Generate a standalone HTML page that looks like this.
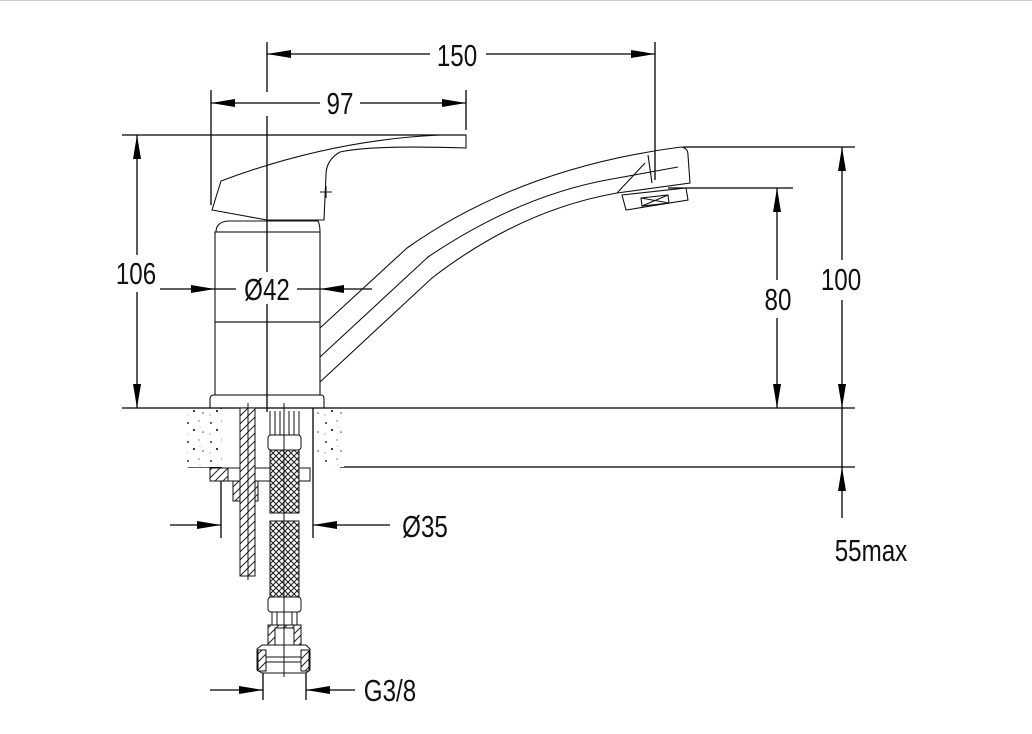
<!DOCTYPE html>
<html><head><meta charset="utf-8"><style>
html,body{margin:0;padding:0;background:#fff}
svg{display:block}
text{font-family:"Liberation Sans",sans-serif;font-size:31px;fill:#111}
</style></head><body>
<svg width="1032" height="734" viewBox="0 0 1032 734" xmlns="http://www.w3.org/2000/svg">
<defs>
<pattern id="braid" width="6" height="6" patternUnits="userSpaceOnUse">
<rect width="6" height="6" fill="#fff"/>
<path d="M0,0L6,6M6,0L0,6" stroke="#222" stroke-width="1.1"/>
</pattern>
<pattern id="hatch" width="8" height="8" patternUnits="userSpaceOnUse">
<rect width="8" height="8" fill="#fff"/>
<path d="M0,8L8,0M-2,2L2,-2M6,10L10,6" stroke="#222" stroke-width="1"/>
</pattern>
<pattern id="speck" width="23" height="19" patternUnits="userSpaceOnUse">
<rect width="23" height="19" fill="#fff"/>
<circle cx="4" cy="5" r="1" fill="#333"/><circle cx="15" cy="3" r="0.7" fill="#666"/>
<circle cx="10" cy="12" r="1.1" fill="#222"/><circle cx="19" cy="14" r="0.8" fill="#444"/>
<circle cx="3" cy="16" r="0.6" fill="#777"/><circle cx="16" cy="9" r="0.5" fill="#888"/>
</pattern>
<marker id="a" viewBox="0 0 24 8" refX="24" refY="4" markerWidth="24" markerHeight="8" markerUnits="userSpaceOnUse" orient="auto">
<path d="M0,0L24,4L0,8z" fill="#000"/></marker>
</defs>
<line x1="0" y1="0.5" x2="1032" y2="0.5" stroke="#ccc"/>
<g stroke="#000" stroke-width="1.3" fill="none">
<!-- extension lines -->
<line x1="267" y1="42" x2="267" y2="92"/>
<line x1="267" y1="116" x2="267" y2="272"/>
<line x1="267" y1="304" x2="267" y2="412"/>
<line x1="655" y1="42" x2="655" y2="180"/>
<line x1="211" y1="90" x2="211" y2="205"/>
<line x1="466" y1="90" x2="466" y2="130"/>
<line x1="122" y1="135" x2="466" y2="135"/>
<line x1="683" y1="147" x2="855" y2="147"/>
<line x1="668" y1="188" x2="793" y2="188"/>
<line x1="122" y1="408" x2="855" y2="408"/>
<line x1="340" y1="467" x2="855" y2="467"/>
<line x1="188" y1="467" x2="222" y2="467"/>
<!-- 150 -->
<line x1="430" y1="54" x2="267" y2="54" marker-end="url(#a)"/>
<line x1="486" y1="54" x2="655" y2="54" marker-end="url(#a)"/>
<!-- 97 -->
<line x1="320" y1="103" x2="211" y2="103" marker-end="url(#a)"/>
<line x1="360" y1="103" x2="466" y2="103" marker-end="url(#a)"/>
<!-- 106 -->
<line x1="137" y1="255" x2="137" y2="135" marker-end="url(#a)"/>
<line x1="137" y1="292" x2="137" y2="408" marker-end="url(#a)"/>
<!-- 100 -->
<line x1="842" y1="260" x2="842" y2="147" marker-end="url(#a)"/>
<line x1="842" y1="300" x2="842" y2="408" marker-end="url(#a)"/>
<!-- 80 -->
<line x1="777" y1="280" x2="777" y2="188" marker-end="url(#a)"/>
<line x1="777" y1="318" x2="777" y2="408" marker-end="url(#a)"/>
<!-- 55 -->
<line x1="842" y1="408" x2="842" y2="467"/>
<line x1="842" y1="518" x2="842" y2="467" marker-end="url(#a)"/>
<!-- Ø42 -->
<line x1="160" y1="289" x2="215" y2="289" marker-end="url(#a)"/>
<line x1="372" y1="289" x2="320" y2="289" marker-end="url(#a)"/>
<line x1="297" y1="289" x2="320" y2="289"/>
<line x1="215" y1="289" x2="236" y2="289"/>
<!-- Ø35 -->
<line x1="221" y1="408" x2="221" y2="538"/>
<line x1="313" y1="408" x2="313" y2="538"/>
<line x1="170" y1="525" x2="221" y2="525" marker-end="url(#a)"/>
<line x1="390" y1="525" x2="313" y2="525" marker-end="url(#a)"/>
<!-- G3/8 -->
<line x1="263" y1="672" x2="263" y2="700"/>
<line x1="306" y1="672" x2="306" y2="700"/>
<line x1="210" y1="690" x2="263" y2="690" marker-end="url(#a)"/>
<line x1="355" y1="690" x2="306" y2="690" marker-end="url(#a)"/>
</g>
<!-- faucet -->
<g stroke="#111" stroke-width="1.1" fill="none">
<path d="M212,210 L221,181 Q330,140 440,135 L466,135 L466,148 Q370,145 340,152 Q326,160 326,175 L324,220 L267,220 Z"/>
<path d="M320,192 h12 M326,186 v12"/>
<path d="M216,232 Q216,222 228,221 L318,221 Q320,225 320,232"/>
<rect x="215" y="232" width="105" height="90"/>
<rect x="215" y="322" width="105" height="73"/>
<path d="M210,408 L210,399 Q210,395 214,395 L321,395 Q324,395 324,399 L324,408"/>
<path d="M320,328 L407,248 Q520,168 681,147 Q688,148 688,155 L690,183 L617,193"/>
<path d="M320,357 L428,257 Q520,195 612,179 L678,167"/>
<path d="M320,382 L432,278 Q520,210 617,193 L645,163"/>
<path d="M648,155 L652,183"/>
<path d="M622,195 L686,188 L688,200 L626,210 Z"/>
<path d="M641,198 L668,195 L669,203 L642,206 Z M641,198 L669,203 M668,195 L642,206"/>
</g>
<!-- underside -->
<g stroke="#111" stroke-width="1">
<rect x="187" y="409" width="35" height="58" fill="url(#speck)" stroke="none"/>
<rect x="316" y="409" width="28" height="58" fill="url(#speck)" stroke="none"/>
<rect x="210" y="468" width="100" height="13" fill="#fff"/>
<rect x="210" y="468" width="18" height="13" fill="url(#hatch)"/>
<rect x="233" y="481" width="25" height="20" fill="url(#hatch)"/>
<rect x="240" y="408" width="15" height="168" fill="url(#hatch)"/>
<line x1="248" y1="403" x2="248" y2="580"/>
<path d="M270,411 L270,435 M275,411 v24 M280,411 v24 M289,411 v24 M294,411 v24 M299,411 v24" fill="none"/>
<rect x="268" y="435" width="33" height="15" rx="3" fill="#fff"/>
<rect x="270" y="450" width="29" height="63" fill="url(#braid)"/>
<rect x="270" y="521" width="29" height="76" fill="url(#braid)"/>
<rect x="268" y="597" width="33" height="15" rx="3" fill="#fff"/>
<path d="M272,612 v20 M277,612 v20 M292,612 v20 M297,612 v20" fill="none"/>
<rect x="268" y="625" width="33" height="22" fill="url(#hatch)"/>
<rect x="275" y="628" width="19" height="25" fill="#fff"/>
<path d="M257,649 L262,645 L306,645 L310,649 L310,670 L306,673 L262,673 L257,670 Z" fill="#fff"/>
<rect x="258" y="650" width="8" height="21" fill="url(#hatch)"/>
<rect x="301" y="650" width="8" height="21" fill="url(#hatch)"/>
<rect x="266" y="657" width="35" height="5" fill="#fff"/>
<line x1="284" y1="403" x2="284" y2="677"/>
</g>
<!-- texts -->
<g>
<text x="457" y="66" text-anchor="middle" transform="translate(457 0) scale(0.78 1) translate(-457 0)">150</text>
<text x="340" y="114" text-anchor="middle" transform="translate(340 0) scale(0.78 1) translate(-340 0)">97</text>
<text x="136" y="284" text-anchor="middle" transform="translate(136 0) scale(0.78 1) translate(-136 0)">106</text>
<text x="267" y="300" text-anchor="middle" transform="translate(267 0) scale(0.78 1) translate(-267 0)">Ø42</text>
<text x="841" y="290" text-anchor="middle" transform="translate(841 0) scale(0.78 1) translate(-841 0)">100</text>
<text x="778" y="310" text-anchor="middle" transform="translate(778 0) scale(0.78 1) translate(-778 0)">80</text>
<text x="425" y="537" text-anchor="middle" transform="translate(425 0) scale(0.78 1) translate(-425 0)">Ø35</text>
<text x="871" y="561" text-anchor="middle" transform="translate(871 0) scale(0.78 1) translate(-871 0)">55max</text>
<text x="390" y="701" text-anchor="middle" transform="translate(390 0) scale(0.78 1) translate(-390 0)">G3/8</text>
</g>
</svg>
</body></html>
